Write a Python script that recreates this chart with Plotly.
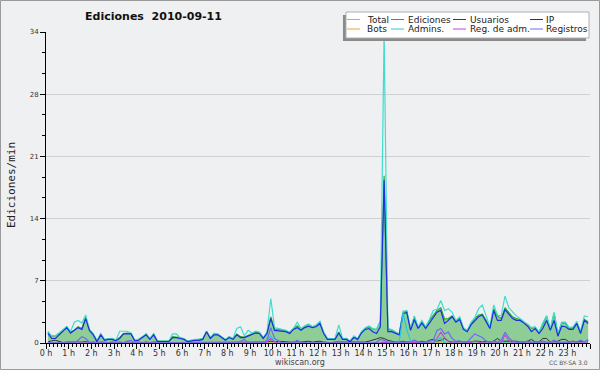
import plotly.graph_objects as go

# ---------------- data (10-minute slots, 6 per hour, 24 hours) ----------------
hour_labels = [f"{h} h" for h in range(24)]

total = [
    1.3, 0.8, 0.8, 1.1, 1.5, 1.8,
    1.3, 2.3, 2.5, 2.2, 3.1, 1.5,
    1.0, 0.3, 1.0, 0.4, 0.5, 0.5,
    0.3, 1.3, 1.3, 1.3, 1.1, 0.3,
    0.4, 0.7, 1.0, 0.5, 1.0, 0.2,
    0.2, 0.2, 0.2, 1.0, 1.0, 0.6,
    0.5, 0.2, 0.3, 0.4, 0.4, 0.5,
    1.3, 0.6, 1.1, 1.0, 0.7, 0.4,
    0.7, 0.5, 1.6, 1.8, 0.8, 1.4,
    1.1, 1.3, 1.2, 0.6, 1.2, 4.9,
    1.7, 1.6, 1.5, 1.4, 1.2, 1.6,
    2.3, 1.6, 1.9, 2.1, 1.8, 2.0,
    2.4, 1.2, 0.5, 0.5, 0.5, 2.0,
    0.5, 0.5, 0.2, 0.8, 0.5, 1.3,
    1.7, 1.9, 1.6, 1.5, 2.4, 34.4,
    1.6, 1.5, 1.2, 1.0, 3.5, 3.6,
    1.6, 3.0, 1.8, 2.5, 1.8, 2.6,
    3.6, 3.7, 4.7, 3.6, 3.8, 3.4,
    2.5, 2.9, 1.7, 1.4, 2.3, 2.8,
    3.8, 4.2, 3.0, 1.8, 4.2, 3.1,
    3.0, 5.2, 3.9, 3.4, 3.0, 2.7,
    2.4, 2.1, 1.7, 1.8, 1.2, 2.2,
    3.0, 1.6, 3.4, 1.0, 2.3, 2.3,
    1.7, 1.8, 2.4, 1.3, 3.0, 2.9,
]

ediciones = [
    1.15, 0.75, 0.8, 1.05, 1.45, 1.8,
    1.2, 1.45, 1.8, 1.6, 2.85, 1.45,
    1.0, 0.2, 1.0, 0.35, 0.45, 0.5,
    0.3, 0.6, 1.05, 1.1, 1.05, 0.3,
    0.4, 0.65, 1.0, 0.45, 1.0, 0.2,
    0.2, 0.2, 0.2, 0.7, 0.65, 0.6,
    0.45, 0.2, 0.3, 0.35, 0.35, 0.45,
    1.3, 0.55, 1.0, 0.95, 0.65, 0.35,
    0.7, 0.45, 1.0, 0.7, 0.65, 0.85,
    1.0, 1.2, 1.15, 0.55, 1.15, 2.9,
    1.5, 1.55, 1.45, 1.35, 1.15, 1.6,
    1.9, 1.5, 1.85, 2.05, 1.8, 1.95,
    2.35, 1.15, 0.45, 0.45, 0.5, 1.2,
    0.45, 0.5, 0.2, 0.7, 0.45, 1.2,
    1.6, 1.8, 1.55, 1.5, 2.4, 18.5,
    1.55, 1.45, 1.15, 1.0, 3.4, 3.5,
    1.5, 2.9, 1.7, 2.4, 1.7, 2.5,
    3.1, 3.6, 3.9, 2.65, 2.7, 3.0,
    2.4, 2.8, 1.6, 1.35, 2.1, 2.7,
    3.1, 3.2, 2.5, 1.7, 3.8, 3.0,
    2.7, 3.9, 3.4, 2.9, 2.7, 2.6,
    2.3, 2.05, 1.65, 1.7, 1.15, 2.1,
    3.0, 1.5, 3.3, 0.95, 2.25, 2.2,
    1.6, 1.7, 2.25, 1.25, 2.6, 2.35,
]

usuarios = [
    1.05, 0.5, 0.5, 0.9, 1.4, 1.7,
    1.1, 1.4, 1.7, 1.5, 2.7, 1.4,
    0.9, 0.15, 0.9, 0.3, 0.4, 0.4,
    0.25, 0.5, 1.0, 1.0, 1.0, 0.25,
    0.3, 0.6, 0.9, 0.4, 0.9, 0.15,
    0.15, 0.15, 0.15, 0.6, 0.6, 0.5,
    0.4, 0.15, 0.25, 0.3, 0.3, 0.4,
    1.25, 0.5, 0.9, 0.9, 0.6, 0.3,
    0.6, 0.4, 0.9, 0.6, 0.6, 0.75,
    0.9, 1.1, 1.05, 0.5, 1.05, 2.7,
    1.4, 1.35, 1.3, 1.25, 1.05, 1.5,
    1.7, 1.4, 1.7, 1.85, 1.7, 1.8,
    2.15, 1.05, 0.4, 0.4, 0.4, 1.1,
    0.4, 0.4, 0.15, 0.6, 0.4, 1.1,
    1.5, 1.6, 1.25, 1.05, 1.8, 18.0,
    1.25, 1.25, 1.05, 0.9, 3.2, 3.4,
    1.4, 2.6, 1.6, 2.2, 1.6, 2.2,
    2.7, 3.4, 3.6, 2.15, 2.5, 2.9,
    2.3, 2.6, 1.5, 1.25, 2.0, 2.5,
    2.9, 3.1, 2.3, 1.6, 3.6, 2.5,
    2.5, 3.7, 3.2, 2.7, 2.5, 2.5,
    2.2, 1.85, 1.25, 1.6, 1.05, 1.6,
    2.5, 1.4, 2.5, 0.75, 1.85, 1.8,
    1.5, 1.5, 2.15, 1.05, 2.5, 2.15,
]

ip = [
    0.1, 0.25, 0.3, 0.15, 0.05, 0.1,
    0.1, 0.05, 0.1, 0.1, 0.15, 0.05,
    0.1, 0.05, 0.1, 0.05, 0.05, 0.1,
    0.05, 0.1, 0.05, 0.1, 0.05, 0.05,
    0.1, 0.05, 0.1, 0.05, 0.1, 0.05,
    0.05, 0.05, 0.05, 0.1, 0.05, 0.1,
    0.05, 0.05, 0.05, 0.05, 0.05, 0.05,
    0.05, 0.05, 0.1, 0.05, 0.05, 0.05,
    0.1, 0.05, 0.1, 0.1, 0.05, 0.1,
    0.1, 0.1, 0.1, 0.05, 0.1, 0.2,
    0.1, 0.2, 0.15, 0.1, 0.1, 0.1,
    0.2, 0.1, 0.15, 0.2, 0.1, 0.15,
    0.2, 0.1, 0.05, 0.05, 0.1, 0.1,
    0.05, 0.1, 0.05, 0.1, 0.05, 0.1,
    0.1, 0.2, 0.3, 0.45, 0.6, 0.5,
    0.3, 0.2, 0.1, 0.1, 0.2, 0.1,
    0.1, 0.3, 0.1, 0.2, 0.1, 0.3,
    0.4, 0.2, 0.3, 0.5, 0.2, 0.1,
    0.1, 0.2, 0.1, 0.1, 0.1, 0.2,
    0.2, 0.1, 0.2, 0.1, 0.2, 0.5,
    0.2, 0.2, 0.2, 0.2, 0.2, 0.1,
    0.1, 0.2, 0.4, 0.1, 0.1, 0.5,
    0.5, 0.1, 0.1, 0.2, 0.4, 0.4,
    0.1, 0.2, 0.1, 0.2, 0.1, 0.2,
]

bots = [
    0, 0, 0, 0, 0, 0,  0, 0, 0, 0, 0, 0,  0, 0, 0, 0, 0, 0,  0, 0, 0, 0, 0, 0,
    0, 0, 0, 0, 0, 0,  0, 0, 0, 0, 0, 0,  0, 0, 0, 0, 0, 0,  0, 0, 0, 0, 0, 0,
    0, 0, 0, 0, 0, 0,  0, 0, 0, 0, 0, 0,  0, 0, 0, 0, 0, 0,  0, 0, 0, 0, 0, 0,
    0, 0, 0, 0, 0, 0,  0, 0, 0, 0, 0, 0,  0, 0, 0, 0, 0, 0,  0, 0, 0, 0, 0, 0,
    0, 0, 0, 0, 0, 0,  0, 0, 0, 0, 0, 0,  0, 0, 0, 0, 0, 0,  0, 0, 0, 0, 0, 0,
    0, 0, 0, 0, 0, 0,  0, 0, 0, 0, 0, 0,  0, 0, 0, 0, 0, 0,  0, 0, 0, 0, 0, 0,
]

admins = [
    0, 0, 0, 0, 0, 0,
    0, 0, 0, 0, 0, 0,
    0, 0, 0, 0, 0, 0,
    0, 0, 0, 0, 0, 0,
    0, 0, 0, 0, 0, 0,
    0, 0, 0, 0, 0, 0,
    0, 0, 0, 0, 0, 0,
    0, 0, 0, 0, 0, 0,
    0, 0, 0, 0, 0, 0,
    0, 0, 0, 0, 0.2, 0.8,
    0.1, 0, 0, 0, 0, 0,
    0, 0, 0, 0, 0, 0,
    0, 0, 0, 0, 0, 0,
    0, 0, 0, 0, 0, 0,
    0, 0, 0, 0, 0, 0.1,
    0, 0, 0, 0, 3.3, 1.5,
    0.2, 0, 0, 0, 0, 0,
    0, 0.3, 0.6, 0, 0, 0,
    0, 0, 0, 0, 0, 0,
    0, 0, 0, 0, 0, 0,
    0.2, 0, 0, 0, 0, 0,
    0, 0, 0, 0, 0, 0,
    0, 0, 0, 0, 0, 0,
    0, 0, 0, 0, 0, 0.3,
]

reg_adm = [
    0, 0, 0, 0, 0, 0,
    0, 0, 0, 0, 0, 0,
    0, 0, 0, 0, 0, 0,
    0, 0, 0, 0, 0, 0,
    0, 0, 0, 0, 0, 0,
    0, 0, 0, 0, 0, 0,
    0, 0, 0, 0, 0, 0,
    0, 0, 0, 0, 0, 0,
    0, 0, 0, 0, 0, 0,
    0, 0, 0, 0, 0.1, 0.5,
    0.1, 0, 0, 0, 0, 0,
    0, 0, 0, 0, 0, 0,
    0, 0, 0, 0, 0, 0,
    0, 0, 0, 0, 0, 0,
    0, 0, 0, 0, 0, 0.1,
    0, 0, 0, 0, 0, 0,
    0, 0.1, 0, 0, 0, 0,
    0, 0.5, 1.2, 0.6, 0.2, 0,
    0, 0, 0, 0, 0.1, 0.2,
    0.1, 0, 0, 0, 0, 0,
    0, 0.9, 0.3, 0, 0, 0,
    0, 0, 0, 0, 0, 0,
    0, 0, 0, 0, 0, 0,
    0, 0, 0, 0, 0, 0,
]

registros = [
    0, 0, 0, 0, 0, 0,
    0, 0, 0.3, 0.7, 0.5, 0.1,
    0, 0, 0, 0, 0, 0,
    0, 0, 0, 0.2, 0.3, 0,
    0, 0, 0, 0, 0, 0,
    0, 0, 0, 0, 0, 0,
    0, 0, 0, 0, 0, 0,
    0, 0, 0, 0, 0, 0,
    0, 0, 0, 0.2, 0.4, 0,
    0, 0, 0, 0, 0.3, 1.7,
    0.5, 0.2, 0, 0, 0, 0,
    0.3, 0, 0, 0, 0, 0,
    0, 0, 0, 0, 0, 0.2,
    0, 0, 0, 0, 0.2, 0,
    0, 0, 0, 0.1, 0.4, 0.3,
    0.1, 0.1, 0.1, 0.1, 0.1, 0.1,
    0.1, 0.3, 0.1, 0.1, 0.1, 0.2,
    0.3, 1.4, 1.6, 1.0, 1.2, 0.5,
    0.2, 0.2, 0.1, 0.1, 0.6, 1.0,
    0.8, 0.6, 0.2, 0.1, 0.2, 0.1,
    0.3, 1.2, 0.6, 0.2, 0.1, 0.1,
    0.1, 0.2, 0.1, 0.1, 0.1, 0.2,
    0.1, 0.1, 0.3, 0.1, 0.1, 0.1,
    0.1, 0.2, 0.1, 0.3, 0.1, 0.4,
]

y_max = 34.4
y_tick_text = ["0", "7", "14", "21", "28", "34"]

# ---------------- styling ----------------
FONT = "DejaVu Sans, Verdana, sans-serif"
BG = "#eff0f2"
colors = {
    "Total": "#40dccf",
    "Ediciones": "#2ea832",
    "Usuarios": "#1c2fe2",
    "IP": "#333333",
    "Bots": "#f5a030",
    "Admins.": "#28c6dc",
    "Reg. de adm.": "#cc3ddd",
    "Registros": "#6c6cf0",
}

W, H = 600, 370
ML, MR, MT, MB = 46, 10, 32, 27
PW, PH = W - ML - MR, H - MT - MB

def px(x):
    return (x - ML) / PW

def py(y):
    return (H - MB - y) / PH

slots = [(i + 0.5) / 6 for i in range(len(total))]

fig = go.Figure()
fig.add_trace(go.Scatter(x=slots, y=ediciones, name="Ediciones", mode="lines",
                         line=dict(color=colors["Ediciones"], width=1.2),
                         fill="tozeroy", fillcolor="#8fcd97"))
fig.add_trace(go.Scatter(x=slots, y=total, name="Total", mode="lines",
                         line=dict(color=colors["Total"], width=1.2)))
fig.add_trace(go.Scatter(x=slots, y=usuarios, name="Usuarios", mode="lines",
                         line=dict(color=colors["Usuarios"], width=1.2)))
fig.add_trace(go.Scatter(x=slots, y=ip, name="IP", mode="lines",
                         line=dict(color=colors["IP"], width=1)))
fig.add_trace(go.Scatter(x=slots, y=bots, name="Bots", mode="lines",
                         line=dict(color=colors["Bots"], width=1)))
fig.add_trace(go.Scatter(x=slots, y=admins, name="Admins.", mode="lines",
                         line=dict(color=colors["Admins."], width=1.2)))
fig.add_trace(go.Scatter(x=slots, y=reg_adm, name="Reg. de adm.", mode="lines",
                         line=dict(color=colors["Reg. de adm."], width=1.1)))
fig.add_trace(go.Scatter(x=slots, y=registros, name="Registros", mode="lines",
                         line=dict(color=colors["Registros"], width=1.2)))

shapes = []
annotations = []

# outer frame
shapes.append(dict(type="rect", xref="paper", yref="paper",
                   x0=px(0.5), x1=px(W - 0.5), y0=py(H - 0.5), y1=py(0.5),
                   line=dict(color="#9a9a9a", width=1), fillcolor="rgba(0,0,0,0)",
                   layer="above"))

# legend box (manual, 4 columns x 2 rows)
shapes.append(dict(type="rect", xref="paper", yref="paper",
                   x0=px(343), x1=px(586), y0=py(41), y1=py(15),
                   line=dict(width=0), fillcolor="#8a8a8a", layer="above"))
shapes.append(dict(type="rect", xref="paper", yref="paper",
                   x0=px(346), x1=px(589), y0=py(38), y1=py(12),
                   line=dict(color="#b0b0b0", width=1), fillcolor="#ffffff", layer="above"))

legend_rows = [["Total", "Ediciones", "Usuarios", "IP"],
               ["Bots", "Admins.", "Reg. de adm.", "Registros"]]
col_line_x = [347, 391, 453, 530]
col_text_x = [365, 406, 468, 544]
row_y = [19.5, 29]
for r, row in enumerate(legend_rows):
    for c, name in enumerate(row):
        shapes.append(dict(type="line", xref="paper", yref="paper",
                           x0=px(col_line_x[c]), x1=px(col_line_x[c] + 13),
                           y0=py(row_y[r]), y1=py(row_y[r]),
                           line=dict(color=colors[name], width=1), layer="above"))
        annotations.append(dict(text=name, xref="paper", yref="paper",
                                x=px(col_text_x[c]), y=py(row_y[r]),
                                xanchor="left", yanchor="middle", showarrow=False,
                                font=dict(family=FONT, size=9, color="#222222")))

annotations.append(dict(text="Ediciones/min", xref="paper", yref="paper",
                        x=px(11), y=py(185), textangle=-90,
                        xanchor="center", yanchor="middle", showarrow=False,
                        font=dict(family="DejaVu Sans Mono, monospace", size=11, color="#222222")))
annotations.append(dict(text="wikiscan.org", xref="paper", yref="paper",
                        x=px(300), y=py(362), xanchor="center", yanchor="middle",
                        showarrow=False, font=dict(family=FONT, size=8, color="#444444")))
annotations.append(dict(text="CC BY-SA 3.0", xref="paper", yref="paper",
                        x=px(590), y=py(362.5), xanchor="right", yanchor="middle",
                        showarrow=False, font=dict(family=FONT, size=6, color="#555555")))

y_tick_vals = [y_max * k / 5 for k in range(6)]

fig.update_layout(
    width=W, height=H,
    margin=dict(l=ML, r=MR, t=MT, b=MB),
    paper_bgcolor=BG, plot_bgcolor=BG,
    showlegend=False,
    title=dict(text="Ediciones\u00a0 2010-09-11", xref="container", yref="container",
               x=153.5 / W, y=1 - 16.5 / H, xanchor="center", yanchor="middle",
               font=dict(family=FONT, size=11, color="#111111", weight="bold")),
    xaxis=dict(range=[0, 24], tickmode="array", tickvals=list(range(25)),
               ticktext=hour_labels + [""], ticks="outside", ticklen=5,
               tickcolor="#000000", tickwidth=1, ticklabelstandoff=-3,
               showline=True, linecolor="#000000", linewidth=1,
               showgrid=False, zeroline=False,
               tickfont=dict(family=FONT, size=8, color="#333333"),
               minor=dict(dtick=1 / 6, tick0=0, ticks="outside", ticklen=3,
                          tickcolor="#000000", tickwidth=1, showgrid=False)),
    yaxis=dict(range=[0, y_max], tickmode="array", tickvals=y_tick_vals,
               ticktext=y_tick_text, ticks="outside", ticklen=5,
               tickcolor="#000000", tickwidth=1,
               showline=True, linecolor="#000000", linewidth=1,
               showgrid=True, gridcolor="#cfd0d2", gridwidth=1, zeroline=False,
               tickfont=dict(family=FONT, size=7, color="#333333"),
               minor=dict(tick0=0, dtick=y_max / 15, ticks="outside", ticklen=3,
                          tickcolor="#000000", tickwidth=1, showgrid=False)),
    shapes=shapes,
    annotations=annotations,
)

fig.write_html("out.html")
